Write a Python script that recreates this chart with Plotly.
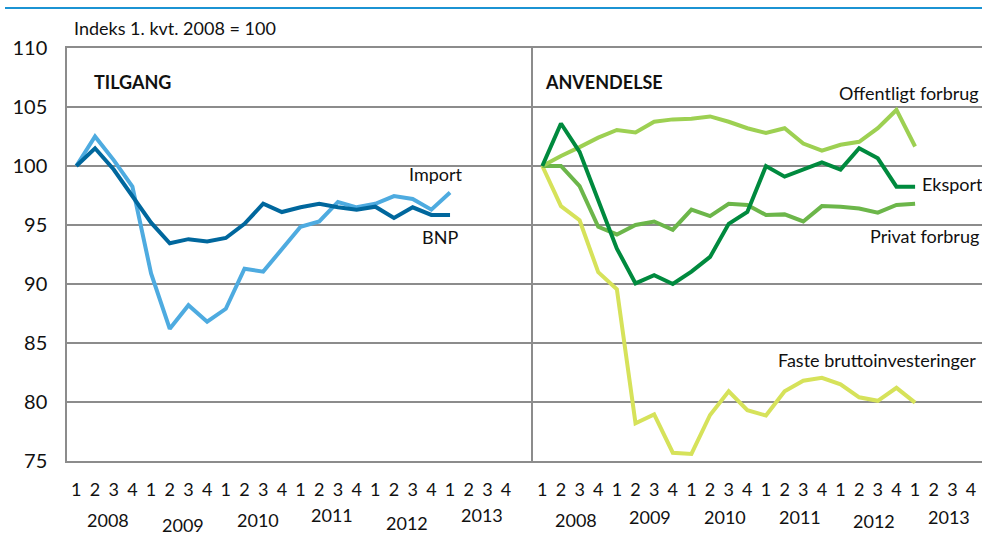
import plotly.graph_objects as go

quarters = ["1", "2", "3", "4"] * 6
years = ["2008", "2009", "2010", "2011", "2012", "2013"]
idx = list(range(21))

bnp = [100.0, 101.5, 99.7, 97.4, 95.2, 93.45, 93.8, 93.6, 93.9, 95.1, 96.8, 96.1,
       96.5, 96.8, 96.5, 96.3, 96.55, 95.6, 96.5, 95.85, 95.85]
importv = [100.0, 102.5, 100.5, 98.25, 90.9, 86.2, 88.2, 86.8, 87.9, 91.3, 91.05, 93.0,
           94.85, 95.3, 96.95, 96.5, 96.8, 97.45, 97.2, 96.3, 97.75]

eksport = [100.0, 103.6, 101.2, 97.1, 93.0, 90.05, 90.75, 90.0, 91.05, 92.3, 95.1, 96.1,
           100.0, 99.1, 99.7, 100.3, 99.7, 101.5, 100.65, 98.25, 98.25]
offentligt = [100.0, 100.85, 101.6, 102.4, 103.05, 102.85, 103.75, 103.95, 104.0, 104.2, 103.75, 103.2,
              102.8, 103.2, 101.9, 101.3, 101.8, 102.05, 103.2, 104.75, 101.65]
privat = [100.0, 100.0, 98.3, 94.85, 94.2, 95.0, 95.3, 94.6, 96.3, 95.75, 96.8, 96.7,
          95.85, 95.9, 95.3, 96.6, 96.55, 96.4, 96.05, 96.7, 96.8]
faste = [100.0, 96.6, 95.4, 91.0, 89.55, 78.2, 78.95, 75.7, 75.6, 78.9, 80.9, 79.3,
         78.85, 80.9, 81.8, 82.05, 81.5, 80.4, 80.1, 81.2, 79.95]

W, H = 982, 535
FONT = "Lato"
GRID = "#8c8c8c"
TXT = "#111111"

def px(xp):
    return xp / W

def py(yp):
    return 1 - yp / H

fig = go.Figure()
lw = 4
fig.add_trace(go.Scatter(x=idx, y=importv, mode="lines", line=dict(color="#4eabe0", width=lw),
                         xaxis="x", yaxis="y", name="Import"))
fig.add_trace(go.Scatter(x=idx, y=bnp, mode="lines", line=dict(color="#00679d", width=lw),
                         xaxis="x", yaxis="y", name="BNP"))
fig.add_trace(go.Scatter(x=idx, y=faste, mode="lines", line=dict(color="#d6e25a", width=lw),
                         xaxis="x2", yaxis="y2", name="Faste bruttoinvesteringer"))
fig.add_trace(go.Scatter(x=idx, y=privat, mode="lines", line=dict(color="#6cb64a", width=lw),
                         xaxis="x2", yaxis="y2", name="Privat forbrug"))
fig.add_trace(go.Scatter(x=idx, y=offentligt, mode="lines", line=dict(color="#9dd052", width=lw),
                         xaxis="x2", yaxis="y2", name="Offentligt forbrug"))
fig.add_trace(go.Scatter(x=idx, y=eksport, mode="lines", line=dict(color="#008a3e", width=lw),
                         xaxis="x2", yaxis="y2", name="Eksport"))

ydom = [py(461), py(48)]
common_x = dict(tickmode="array", tickvals=list(range(24)), ticktext=quarters,
                showgrid=False, zeroline=False, showline=True, linecolor=GRID, linewidth=1.5,
                mirror=True, ticks="outside", ticklen=12, tickcolor="rgba(0,0,0,0)",
                automargin=False, fixedrange=True,
                tickfont=dict(family=FONT, size=18, color=TXT))
common_y = dict(range=[75, 110], domain=ydom, tickmode="array",
                tickvals=[75, 80, 85, 90, 95, 100, 105, 110],
                showgrid=True, gridcolor=GRID, gridwidth=1.5, zeroline=False,
                showline=True, linecolor=GRID, linewidth=1.5, automargin=False, fixedrange=True)

fig.update_layout(
    template="none",
    width=W, height=H, margin=dict(l=0, r=0, t=0, b=0, pad=0), autosize=False,
    paper_bgcolor="white", plot_bgcolor="white", showlegend=False,
    xaxis=dict(domain=[px(67), px(533)], range=[-0.5, 24.44], anchor="y", **common_x),
    xaxis2=dict(domain=[px(533), 1.0], range=[-0.5, 23.59], anchor="y2", **common_x),
    yaxis=dict(anchor="x", ticks="outside", ticklen=14, tickcolor="rgba(0,0,0,0)",
               tickfont=dict(family=FONT, size=20, color=TXT), **common_y),
    yaxis2=dict(anchor="x2", showticklabels=False, ticks="", **common_y),
)

# year labels (staggered as in the original)
left_years_y = [520, 525, 520, 515, 523, 515]
right_years_y = [520, 517, 517, 517, 521, 517]
for k, yr in enumerate(years):
    fig.add_annotation(x=4 * k + 1.7, y=py(left_years_y[k]), xref="x", yref="paper", text=yr,
                       showarrow=False, xanchor="center", yanchor="middle",
                       font=dict(family=FONT, size=18, color=TXT))
    fig.add_annotation(x=4 * k + 1.8, y=py(right_years_y[k]), xref="x2", yref="paper", text=yr,
                       showarrow=False, xanchor="center", yanchor="middle",
                       font=dict(family=FONT, size=18, color=TXT))

lab = dict(family=FONT, size=18, color=TXT)

def note(xp, yp, text, xanchor="center", font=lab):
    fig.add_annotation(x=px(xp), y=py(yp), xref="paper", yref="paper", text=text,
                       showarrow=False, xanchor=xanchor, yanchor="middle", font=font)

note(72, 28, "Indeks 1. kvt. 2008 = 100", "left", dict(family=FONT, size=18, color=TXT))
note(92, 82, "<b>TILGANG</b>", "left")
note(543, 82, "<b>ANVENDELSE</b>", "left")
note(436, 174, "Import")
note(440, 237, "BNP")
note(981, 93, "Offentligt forbrug", "right")
note(920, 184, "Eksport", "left")
note(981, 236, "Privat forbrug", "right")
note(978, 360, "Faste bruttoinvesteringer", "right")

# decorative top rule
fig.add_shape(type="line", xref="paper", yref="paper", x0=px(5), x1=1.0, y0=py(8), y1=py(8),
              line=dict(color="#1b93d3", width=2))

fig.write_html("out.html", config={"displayModeBar": False},
               post_script="document.body.style.margin='0';document.body.style.overflow='hidden';")
